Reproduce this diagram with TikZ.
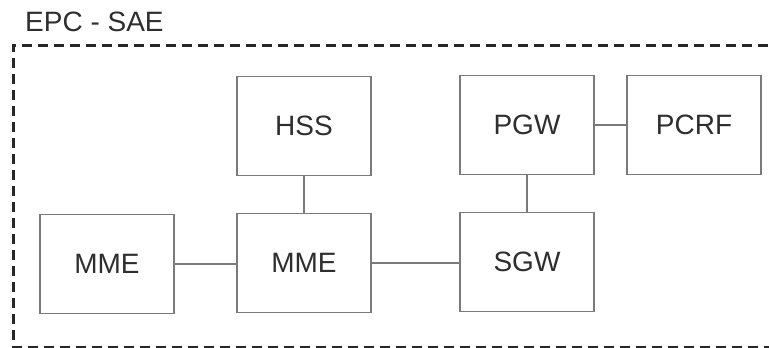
\documentclass[tikz,border=0pt]{standalone}
\usepackage{fontspec}
\setmainfont{Liberation Sans}
\definecolor{boxline}{HTML}{7A7A7A}
\definecolor{txt}{HTML}{2E2E2E}
\definecolor{frame}{HTML}{262626}
\begin{document}
\begin{tikzpicture}[x=1pt,y=-1pt,
  nbox/.style={draw=boxline,line width=1.3pt,minimum width=134pt,minimum height=99pt,
    inner sep=0pt,font=\fontsize{28}{32}\selectfont,text=txt},
  link/.style={draw=boxline,line width=1.3pt}]
\useasboundingbox (0,0) rectangle (769,348);
\begin{scope}
\clip (0,0) rectangle (769,348);
\draw[frame,line width=3pt,dash pattern=on 10pt off 6pt] (800,45) -- (13,45) -- (13,347) -- (800,347);
\end{scope}
\node[anchor=base west,font=\fontsize{28}{32}\selectfont,text=txt,inner sep=0pt] (title) at (25,31) {EPC - SAE};
\node[nbox] (mme1) at (107,264) {MME};
\node[nbox] (mme2) at (304,263) {MME};
\node[nbox] (hss) at (304,126) {HSS};
\node[nbox] (pgw) at (527,125) {PGW};
\node[nbox] (pcrf) at (694,125) {PCRF};
\node[nbox] (sgw) at (527,262) {SGW};
\draw[link] (mme1.east) -- (mme1.east -| mme2.west);
\draw[link] (mme2.east) -- (mme2.east -| sgw.west);
\draw[link] (hss.south) -- (mme2.north);
\draw[link] (pgw.south) -- (sgw.north);
\draw[link] (pgw.east) -- (pcrf.west);
\end{tikzpicture}
\end{document}
